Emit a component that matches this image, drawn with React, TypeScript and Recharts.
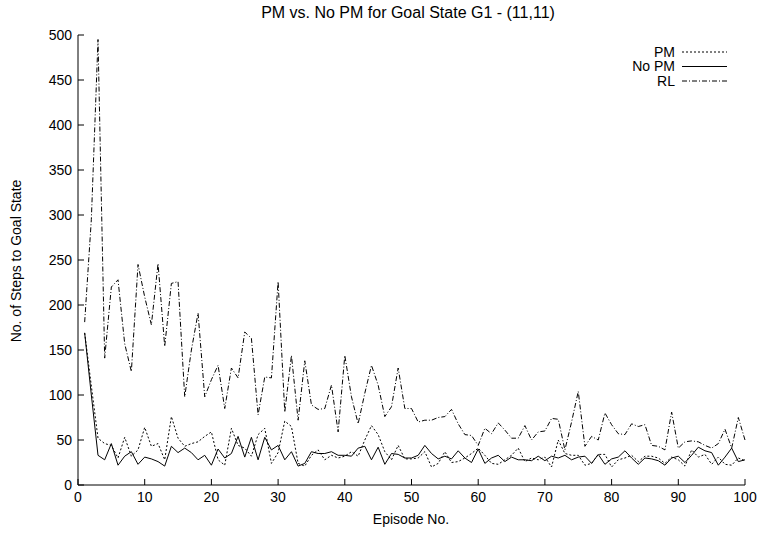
import { LineChart, Line, XAxis, YAxis, Legend } from 'recharts'

const episodes = [
  1, 2, 3, 4, 5, 6, 7, 8, 9, 10, 11, 12, 13, 14, 15, 16, 17, 18, 19, 20,
  21, 22, 23, 24, 25, 26, 27, 28, 29, 30, 31, 32, 33, 34, 35, 36, 37, 38, 39, 40,
  41, 42, 43, 44, 45, 46, 47, 48, 49, 50, 51, 52, 53, 54, 55, 56, 57, 58, 59, 60,
  61, 62, 63, 64, 65, 66, 67, 68, 69, 70, 71, 72, 73, 74, 75, 76, 77, 78, 79, 80,
  81, 82, 83, 84, 85, 86, 87, 88, 89, 90, 91, 92, 93, 94, 95, 96, 97, 98, 99, 100,
]

const pm = [
  169, 110, 52, 46, 44, 30, 53, 32, 39, 64, 43, 46, 28, 76, 52, 43, 46, 48, 54, 59,
  28, 22, 63, 44, 41, 32, 56, 63, 24, 36, 71, 65, 24, 21, 33, 39, 28, 33, 30, 32,
  37, 32, 50, 66, 56, 37, 28, 44, 29, 29, 30, 37, 20, 24, 37, 25, 26, 30, 35, 41,
  33, 24, 23, 28, 33, 41, 26, 30, 28, 31, 20, 50, 35, 33, 33, 22, 24, 34, 34, 20,
  28, 30, 33, 26, 32, 32, 30, 24, 31, 28, 21, 39, 31, 34, 23, 31, 23, 22, 30, 27,
]

const noPm = [
  169, 100, 33, 28, 46, 22, 32, 37, 23, 31, 29, 26, 21, 43, 36, 41, 36, 28, 33, 22,
  40, 30, 35, 54, 31, 53, 28, 53, 39, 44, 28, 37, 21, 24, 37, 35, 35, 37, 33, 33,
  32, 41, 43, 28, 42, 23, 35, 34, 30, 30, 33, 44, 35, 29, 32, 29, 38, 30, 25, 40,
  24, 30, 33, 26, 31, 28, 28, 27, 32, 27, 32, 30, 33, 28, 31, 32, 24, 34, 23, 29,
  31, 38, 30, 23, 30, 29, 27, 22, 30, 32, 25, 33, 42, 38, 36, 22, 31, 41, 26, 28,
]

const rl = [
  181, 295, 495, 141, 220, 228, 157, 126, 245, 209, 178, 246, 154, 224, 226, 98, 150, 191, 98, 117,
  133, 85, 130, 119, 170, 163, 78, 120, 119, 226, 81, 144, 72, 138, 89, 84, 85, 111, 59, 144,
  98, 68, 102, 133, 111, 76, 87, 130, 85, 85, 70, 72, 72, 75, 76, 84, 68, 56, 55, 44,
  63, 57, 69, 61, 52, 52, 66, 50, 59, 60, 74, 73, 39, 70, 104, 43, 54, 50, 80, 67,
  57, 56, 68, 65, 67, 44, 43, 39, 81, 41, 48, 49, 48, 44, 41, 46, 62, 41, 75, 50,
]

const seriesNames = ['PM', 'No PM', 'RL']
const xTicks = [0, 10, 20, 30, 40, 50, 60, 70, 80, 90, 100]
const yTicks = [0, 50, 100, 150, 200, 250, 300, 350, 400, 450, 500]

const rows = episodes.map((ep, i) => ({ ep, PM: pm[i], 'No PM': noPm[i], RL: rl[i] }))

const dashes: Record<string, string | undefined> = { PM: '2 2', 'No PM': undefined, RL: '5 2 1 2' }

const FONT = '"Liberation Sans", Arial, Helvetica, sans-serif'
const TICK = 6

const BottomTick = ({ x, y, payload }: any) => (
  <g>
    <line x1={x} x2={x} y1={y - 7} y2={y - 7 - TICK} stroke="#000" />
    <text x={x} y={y} dy="0.71em" textAnchor="middle" fontSize={14} fontFamily={FONT} fill="#000">{payload.value}</text>
  </g>
)

const LeftTick = ({ x, y, payload }: any) => (
  <g>
    <line x1={x + 6} x2={x + 6 + TICK} y1={y} y2={y} stroke="#000" />
    <text x={x} y={y} dy="0.355em" textAnchor="end" fontSize={14} fontFamily={FONT} fill="#000">{payload.value}</text>
  </g>
)

const TopTick = ({ x, y }: any) => <line x1={x} x2={x} y1={y} y2={y + TICK} stroke="#000" />
const RightTick = ({ x, y }: any) => <line x1={x - TICK} x2={x} y1={y} y2={y} stroke="#000" />

// keep the key in the original plot order, whatever order recharts hands it over in
const LegendBox = ({ payload }: any) => {
  const items = [...(payload || [])].sort((a: any, b: any) => seriesNames.indexOf(a.value) - seriesNames.indexOf(b.value))
  return (
    <svg width={135} height={46}>
      {items.map((p: any, i: number) => (
        <g key={p.value}>
          <text x={75} y={8 + i * 14.5} dy="0.355em" textAnchor="end" fontSize={14} fontFamily={FONT} fill="#000">{p.value}</text>
          <line x1={82} x2={127} y1={8 + i * 14.5} y2={8 + i * 14.5} stroke="#000" strokeDasharray={dashes[p.value]} />
        </g>
      ))}
    </svg>
  )
}

export default function App() {
  return (
    <div style={{ position: 'absolute', left: 0, top: 0, width: 759, height: 533, background: '#fff', fontFamily: FONT }}>
      <div style={{ position: 'absolute', left: 0, width: 816, top: 4, textAlign: 'center', fontSize: 16 }}>
        PM vs. No PM for Goal State G1 - (11,11)
      </div>
      <div style={{ position: 'absolute', left: 0, width: 822, top: 511, textAlign: 'center', fontSize: 14 }}>
        Episode No.
      </div>
      <div style={{ position: 'absolute', left: 16, top: 261, width: 0, height: 0 }}>
        <div style={{ position: 'absolute', transform: 'translate(-50%, -50%) rotate(-90deg)', whiteSpace: 'nowrap', fontSize: 14 }}>
          No. of Steps to Goal State
        </div>
      </div>
      <LineChart width={759} height={533} data={rows} margin={{ top: 35, right: 14, bottom: 18, left: 18 }}>
        <XAxis xAxisId="b" dataKey="ep" type="number" domain={[0, 100]} ticks={xTicks} height={30}
          tickSize={0} tickMargin={7} tick={<BottomTick />} axisLine={{ stroke: '#000' }} interval={0} />
        <XAxis xAxisId="t" dataKey="ep" type="number" domain={[0, 100]} ticks={xTicks} orientation="top" height={0}
          tickSize={0} tickMargin={0} tick={<TopTick />} axisLine={{ stroke: '#000' }} interval={0} />
        <YAxis yAxisId="l" type="number" domain={[0, 500]} ticks={yTicks} width={60}
          tickSize={0} tickMargin={6} tick={<LeftTick />} axisLine={{ stroke: '#000' }} interval={0} />
        <YAxis yAxisId="r" type="number" domain={[0, 500]} ticks={yTicks} orientation="right" width={0}
          tickSize={0} tickMargin={0} tick={<RightTick />} axisLine={{ stroke: '#000' }} interval={0} />
        <Legend layout="horizontal" verticalAlign="middle" align="center" content={<LegendBox />}
          wrapperStyle={{ left: 600, top: 44, width: 135, height: 46 }} />
        <Line xAxisId="b" yAxisId="l" type="linear" dataKey="PM" stroke="#000" strokeWidth={1}
          strokeDasharray="2 2" dot={false} isAnimationActive={false} />
        <Line xAxisId="b" yAxisId="l" type="linear" dataKey="No PM" stroke="#000" strokeWidth={1}
          dot={false} isAnimationActive={false} />
        <Line xAxisId="b" yAxisId="l" type="linear" dataKey="RL" stroke="#000" strokeWidth={1}
          strokeDasharray="5 2 1 2" dot={false} isAnimationActive={false} />
      </LineChart>
    </div>
  )
}
